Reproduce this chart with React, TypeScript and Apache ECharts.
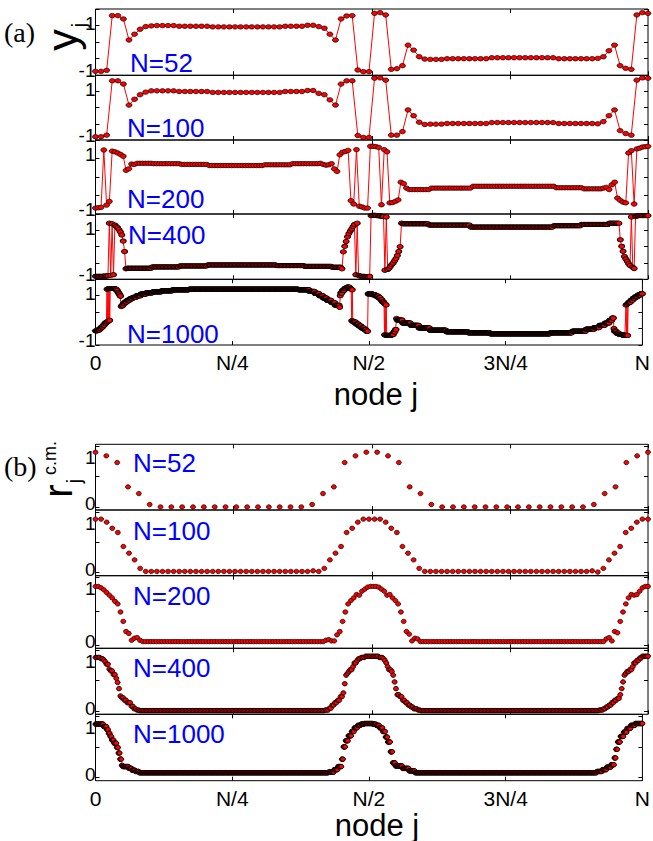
import React, { useEffect, useRef } from 'react';
import * as echarts from 'echarts';

type RLE = [number, number][];

// ---------- labels ----------
const xTickLabels = ['0', 'N/4', 'N/2', '3N/4', 'N'];
const sizeLabels = ['N=52', 'N=100', 'N=200', 'N=400', 'N=1000'];
const xAxisTitle = 'node j';

// ---------- panel (a): y_j, run-length lists of [value, count] ----------
const yA52: RLE = [
  [-0.88, 2], [-0.85, 1], [0.8, 2], [0.7, 1], [0.065, 1], [0.24, 1], [0.39, 1], [0.47, 1], [0.49, 1],
  [0.5, 4], [0.48, 6], [0.46, 13], [0.48, 4], [0.51, 2],
  [0.47, 1], [0.42, 1], [0.24, 1], [0.065, 1], [0.7, 1], [0.79, 1], [0.8, 1],
  [-0.84, 1], [-0.89, 2], [0.87, 1], [0.89, 1], [0.82, 1], [-0.82, 1], [-0.8, 1], [-0.71, 1],
  [-0.09, 1], [-0.24, 1], [-0.44, 1], [-0.51, 1], [-0.52, 3], [-0.5, 8], [-0.47, 12], [-0.5, 7],
  [-0.49, 1], [-0.44, 1], [-0.26, 1], [-0.09, 1], [-0.71, 1], [-0.79, 1], [-0.82, 1],
  [0.82, 1], [0.89, 1], [0.87, 1],
];
const yA100: RLE = [
  [-0.9, 2], [-0.85, 1], [0.83, 2], [0.73, 1], [0.08, 1], [0.26, 1], [0.4, 1], [0.48, 1],
  [0.52, 5], [0.5, 6], [0.47, 13], [0.5, 4], [0.53, 2],
  [0.44, 1], [0.4, 1], [0.24, 1], [0.08, 1], [0.73, 1], [0.83, 2],
  [-0.86, 1], [-0.92, 2], [0.91, 1], [0.92, 1], [0.85, 1], [-0.85, 2], [-0.74, 1],
  [-0.07, 1], [-0.25, 1], [-0.45, 1], [-0.52, 1], [-0.51, 3], [-0.49, 8], [-0.46, 12], [-0.49, 7],
  [-0.5, 1], [-0.43, 1], [-0.25, 1], [-0.07, 1], [-0.71, 1], [-0.8, 1], [-0.85, 1],
  [0.85, 1], [0.92, 1], [0.91, 1],
];
const yA200: RLE = [
  [-0.84, 1], [-0.83, 1], [-0.82, 1], [0.73, 1], [-0.76, 1], [-0.66, 1], [0.7, 1], [0.68, 1],
  [0.65, 1], [0.61, 1], [0.56, 1], [0.18, 1], [0.22, 1], [0.35, 1], [0.34, 1],
  [0.37, 6], [0.36, 10], [0.34, 10], [0.31, 20], [0.33, 10], [0.36, 10],
  [0.37, 1], [0.34, 1], [0.32, 1], [0.33, 1], [0.36, 1], [0.22, 1], [0.15, 1], [0.6, 1],
  [0.67, 1], [0.69, 1], [0.72, 1], [-0.64, 1], [-0.73, 1], [0.74, 1], [-0.79, 1], [-0.81, 1],
  [-0.84, 2], [0.83, 2], [0.82, 1], [0.8, 1], [-0.75, 1], [0.74, 1], [0.68, 1],
  [-0.7, 1], [-0.69, 1], [-0.66, 1], [-0.62, 1], [-0.14, 1], [-0.18, 1], [-0.3, 1],
  [-0.34, 8], [-0.3, 15], [-0.25, 30], [-0.29, 10], [-0.32, 7],
  [-0.3, 1], [-0.28, 1], [-0.34, 1], [-0.21, 1], [-0.14, 1], [-0.57, 1], [-0.63, 1], [-0.68, 1],
  [-0.7, 1], [0.65, 1], [0.71, 1], [-0.73, 1], [0.76, 1], [0.78, 1], [0.81, 1], [0.82, 1], [0.83, 1],
];
const yA400: RLE = [
  [-0.91, 6], [-0.9, 3], [-0.89, 1],
  [0.72, 1], [-0.88, 1], [0.7, 1], [-0.86, 1], [0.66, 1], [0.62, 1], [0.58, 1], [0.52, 1],
  [0.45, 1], [0.36, 1], [0.17, 1], [-0.15, 1], [-0.68, 1],
  [-0.66, 18], [-0.62, 20], [-0.59, 20], [-0.56, 50], [-0.58, 20], [-0.6, 20], [-0.63, 7], [-0.68, 1],
  [-0.16, 1], [0.01, 1], [0.16, 1], [0.3, 1], [0.4, 1], [0.48, 1], [0.54, 1], [0.62, 1], [0.68, 1],
  [-0.86, 1], [0.72, 1], [-0.88, 1],
  [-0.9, 1], [-0.91, 3], [-0.92, 3], [-0.91, 1],
  [0.95, 1], [0.96, 3], [0.95, 2], [0.94, 2], [0.93, 1], [0.92, 1],
  [-0.72, 1], [0.91, 1], [-0.7, 1], [-0.66, 1], [-0.6, 1], [-0.55, 1], [-0.5, 1], [-0.43, 1],
  [-0.36, 1], [-0.27, 1], [-0.15, 1], [0.0, 1],
  [0.72, 1], [0.7, 19], [0.66, 30], [0.6, 60], [0.64, 20], [0.68, 20], [0.72, 8],
  [0.21, 1], [0.01, 1], [-0.14, 1], [-0.3, 1], [-0.38, 1], [-0.45, 1], [-0.52, 1], [-0.58, 1],
  [0.91, 1], [-0.63, 1], [-0.67, 1], [0.92, 1], [0.94, 1], [0.95, 8],
];
const yA1000: RLE = [
  [-0.57, 4], [-0.54, 4], [-0.5, 3], [-0.45, 3], [-0.4, 3], [-0.34, 3], [-0.3, 1],
  [0.7, 1], [-0.29, 1], [0.71, 1], [-0.27, 1], [0.72, 1], [-0.25, 1], [0.72, 1],
  [0.72, 8], [0.7, 3], [0.66, 2], [0.6, 2], [0.55, 2], [0.49, 2],
  [0.17, 1], [0.2, 3], [0.26, 3], [0.31, 4], [0.36, 5], [0.41, 5], [0.45, 7], [0.5, 8], [0.55, 10],
  [0.59, 12], [0.62, 16], [0.65, 20], [0.68, 30], [0.7, 200], [0.68, 20], [0.63, 10], [0.57, 8],
  [0.5, 7], [0.43, 7], [0.36, 8], [0.29, 7], [0.21, 8], [0.15, 1],
  [0.5, 1], [0.58, 3], [0.66, 4], [0.72, 4], [0.76, 6], [0.72, 2], [0.7, 1],
  [-0.26, 1], [0.68, 1], [-0.27, 1],
  [-0.3, 5], [-0.36, 5], [-0.42, 5], [-0.48, 5], [-0.53, 4], [-0.58, 3],
  [0.55, 1], [0.56, 7], [0.53, 6], [0.49, 5], [0.44, 4], [0.38, 3], [0.32, 3],
  [0.28, 1], [-0.69, 1], [0.25, 1], [-0.7, 1], [0.22, 1], [-0.7, 1],
  [-0.71, 8], [-0.68, 4], [-0.6, 3], [-0.53, 2],
  [-0.19, 1], [-0.24, 10], [-0.33, 15], [-0.4, 15], [-0.48, 20], [-0.55, 30], [-0.6, 40], [-0.63, 40],
  [-0.66, 110], [-0.63, 40], [-0.58, 25], [-0.52, 15], [-0.47, 10], [-0.4, 10], [-0.33, 8],
  [-0.25, 5], [-0.18, 3],
  [-0.5, 1], [-0.58, 4], [-0.64, 5], [-0.68, 6], [-0.7, 5],
  [-0.71, 1], [0.22, 1], [-0.71, 1], [0.24, 1], [-0.71, 1], [0.27, 1],
  [0.3, 4], [0.36, 4], [0.42, 4], [0.47, 5], [0.52, 5], [0.56, 4],
];

// ---------- panel (b): r_j^{c.m.}, run-length lists of [value, count] ----------
const rB52: RLE = [
  [0.9, 1], [0.84, 1], [0.73, 1], [0.33, 1], [0.22, 1], [0.04, 1], [0, 14],
  [0.04, 1], [0.22, 1], [0.33, 1], [0.73, 1], [0.84, 1], [0.9, 2], [0.84, 1], [0.73, 1],
  [0.33, 1], [0.22, 1], [0.04, 1], [0, 14],
  [0.04, 1], [0.22, 1], [0.33, 1], [0.73, 1], [0.84, 1], [0.9, 1],
];
const rB100: RLE = [
  [0.88, 2], [0.83, 1], [0.73, 1], [0.66, 1], [0.43, 1], [0.32, 1], [0.21, 1], [0.07, 1],
  [0.02, 30], [0.03, 1], [0.02, 1],
  [0.07, 1], [0.21, 1], [0.32, 1], [0.43, 1], [0.66, 1], [0.73, 1], [0.83, 1], [0.88, 4],
  [0.83, 1], [0.73, 1], [0.66, 1], [0.43, 1], [0.32, 1], [0.21, 1], [0.07, 1],
  [0.02, 30], [0.03, 1], [0.01, 1],
  [0.07, 1], [0.21, 1], [0.32, 1], [0.43, 1], [0.66, 1], [0.73, 1], [0.83, 1], [0.88, 2],
];
const rB200: RLE = [
  [0.87, 2], [0.85, 1], [0.82, 1], [0.78, 1], [0.74, 1], [0.7, 1], [0.65, 1], [0.61, 1], [0.49, 1],
  [0.35, 1], [0.2, 1], [0.17, 1], [0.07, 1], [0.1, 1], [0.11, 1], [0.07, 1],
  [0.05, 66],
  [0.07, 1], [0.08, 1], [0.06, 2], [0.15, 1], [0.2, 1], [0.35, 1], [0.49, 1], [0.61, 1], [0.66, 1],
  [0.7, 1], [0.75, 1], [0.74, 1], [0.8, 1], [0.83, 1], [0.86, 1], [0.87, 3],
  [0.86, 1], [0.83, 1], [0.8, 1], [0.74, 1], [0.75, 1], [0.7, 1], [0.66, 1], [0.61, 1], [0.49, 1],
  [0.35, 1], [0.2, 1], [0.16, 1], [0.06, 1], [0.1, 1], [0.09, 1],
  [0.05, 67],
  [0.09, 1], [0.11, 1], [0.06, 1], [0.2, 1], [0.18, 1], [0.35, 1], [0.49, 1], [0.61, 1], [0.7, 1],
  [0.75, 1], [0.74, 1], [0.75, 1], [0.8, 1], [0.85, 1], [0.87, 2],
];
const rB400: RLE = [
  [0.88, 4], [0.86, 2], [0.84, 1], [0.81, 1], [0.77, 2], [0.69, 1], [0.66, 2], [0.6, 2], [0.54, 1],
  [0.47, 1], [0.37, 1], [0.25, 1], [0.22, 2], [0.18, 2], [0.14, 3], [0.08, 2], [0.04, 2], [0.02, 2],
  [0.01, 134],
  [0.02, 3], [0.05, 2], [0.1, 2], [0.14, 2], [0.18, 2], [0.24, 2], [0.3, 1], [0.45, 1], [0.59, 1],
  [0.62, 1], [0.65, 1], [0.68, 2], [0.73, 1], [0.79, 2], [0.83, 1], [0.86, 2],
  [0.88, 3], [0.9, 10], [0.88, 3],
  [0.86, 1], [0.83, 1], [0.79, 1], [0.73, 1], [0.68, 2], [0.65, 1], [0.59, 1], [0.48, 1], [0.37, 1],
  [0.27, 2], [0.24, 2], [0.18, 2], [0.14, 2], [0.1, 2], [0.07, 2], [0.04, 3], [0.02, 2],
  [0.01, 129],
  [0.02, 3], [0.04, 2], [0.07, 2], [0.1, 2], [0.14, 2], [0.18, 2], [0.21, 2], [0.27, 1], [0.37, 1],
  [0.48, 1], [0.59, 1], [0.62, 1], [0.65, 2], [0.68, 2], [0.73, 1], [0.79, 2], [0.83, 2], [0.87, 2],
  [0.9, 5],
];
const rB1000: RLE = [
  [0.87, 15], [0.83, 6], [0.78, 3], [0.72, 3], [0.67, 3], [0.61, 4], [0.56, 5], [0.49, 3], [0.4, 3],
  [0.3, 3], [0.2, 2], [0.18, 11], [0.15, 6], [0.12, 6], [0.1, 7],
  [0.08, 346],
  [0.09, 10], [0.13, 7], [0.18, 7], [0.3, 3], [0.5, 4], [0.6, 5], [0.68, 6], [0.75, 5], [0.81, 6],
  [0.85, 6], [0.87, 6], [0.88, 16], [0.87, 6], [0.85, 6], [0.81, 6], [0.75, 5], [0.66, 4], [0.58, 5],
  [0.42, 4], [0.24, 5],
  [0.19, 13], [0.15, 12], [0.11, 11],
  [0.08, 332],
  [0.1, 10], [0.13, 8], [0.17, 8], [0.21, 6], [0.32, 3], [0.46, 3], [0.58, 5], [0.67, 6], [0.74, 6],
  [0.8, 7], [0.85, 8], [0.88, 14],
];

const panelA = [yA52, yA100, yA200, yA400, yA1000];
const panelB = [rB52, rB100, rB200, rB400, rB1000];

const expand = (r: RLE): number[] => {
  const out: number[] = [];
  r.forEach(([v, c]) => {
    for (let k = 0; k < c; k++) out.push(v);
  });
  return out;
};

// ---------- layout ----------
const W = 653;
const H = 841;
const GRID_LEFT = 95.5;
const GRID_WIDTH = 552.5;
const boxesA: [number, number][] = [[9, 75.3], [75.3, 140], [140, 214], [214, 279.3], [279.3, 345]];
const boxesB: [number, number][] = [[444.3, 510], [510, 575.7], [575.7, 648.3], [648.3, 714.3], [714.3, 780.7]];
const labelPosA: [number, number][] = [[130, 62.5], [127, 127.5], [127, 199], [128, 235], [127, 334]];
const labelPosB: [number, number][] = [[133, 462.5], [133, 531], [133, 596], [133, 667.5], [133, 734]];
// pixel offsets of the y tick labels from the box edges (as in the reference)
const TOP_LABEL_DROP_A = 14;
const BOTTOM_LABEL_RISE_A = 5;
const TOP_LABEL_DROP_B = 13;
const BOTTOM_LABEL_RISE_B = 3;
const Y_LABEL_SIZE = 19;

const SANS = '"Liberation Sans", Arial, Helvetica, sans-serif';
const SERIF = '"Liberation Serif", "Times New Roman", serif';

function buildOption() {
  const grids: any[] = [];
  const xAxes: any[] = [];
  const yAxes: any[] = [];
  const series: any[] = [];

  const addPanel = (boxes: [number, number][], data: RLE[], kind: 'a' | 'b') => {
    boxes.forEach(([top, bottom], k) => {
      const gi = grids.length;
      const last = k === boxes.length - 1;
      const h = bottom - top;
      grids.push({
        left: GRID_LEFT, width: GRID_WIDTH, top, height: h,
        show: true, borderColor: '#000', borderWidth: 1, backgroundColor: 'transparent',
      });
      const tick = { show: true, inside: true, length: 4, lineStyle: { color: '#000', width: 1 } };
      const xBase = {
        type: 'value', gridIndex: gi, min: 0, max: 1, interval: 0.25,
        axisLine: { show: false, onZero: false }, axisTick: tick, splitLine: { show: false },
      };
      xAxes.push({
        ...xBase, position: 'bottom',
        axisLabel: {
          show: last, margin: 7, color: '#000', fontSize: 21, fontFamily: SANS,
          formatter: (v: number) => xTickLabels[Math.round(v * 4)],
        },
      });
      xAxes.push({ ...xBase, position: 'top', axisLabel: { show: false } });

      const yMin = kind === 'a' ? -1 : -0.05;
      const yMax = kind === 'a' ? 1 : 1.03;
      const perPx = (yMax - yMin) / h;
      const tickVals = kind === 'a' ? [-1, -0.5, 0, 0.5, 1] : [0, 0.5, 1];
      const labelVals =
        kind === 'a'
          ? [-1 + BOTTOM_LABEL_RISE_A * perPx, 1 - TOP_LABEL_DROP_A * perPx]
          : [0 + BOTTOM_LABEL_RISE_B * perPx, yMax - TOP_LABEL_DROP_B * perPx];
      const yBase = {
        type: 'value', gridIndex: gi, min: yMin, max: yMax,
        axisLine: { show: false, onZero: false }, splitLine: { show: false },
        axisTick: { ...tick, customValues: tickVals },
      };
      yAxes.push({
        ...yBase, position: 'left',
        axisLabel: {
          show: true, margin: 0, customValues: labelVals,
          fontSize: Y_LABEL_SIZE, fontFamily: SANS, color: '#000',
          formatter: (v: number) => (v > 0.4 ? '1' : kind === 'a' ? '-1' : '0'),
        },
      });
      yAxes.push({ ...yBase, position: 'right', axisLabel: { show: false } });

      const vals = expand(data[k]);
      const n = vals.length;
      const pts = vals.map((v, i) => [i / (n - 1), v]);
      const bw = n >= 400 ? 0.9 : 0.7;
      if (kind === 'a') {
        series.push({
          type: 'line', xAxisIndex: 2 * gi, yAxisIndex: 2 * gi, data: pts,
          symbol: 'circle', symbolSize: [6, 4.4], showAllSymbol: true,
          lineStyle: { color: '#ff0000', width: 1 },
          itemStyle: { color: '#ff0000', borderColor: '#000', borderWidth: bw },
          emphasis: { disabled: true }, silent: true, z: 3,
        });
      } else {
        series.push({
          type: 'scatter', xAxisIndex: 2 * gi, yAxisIndex: 2 * gi, data: pts,
          symbol: 'circle', symbolSize: [5, 4.4],
          itemStyle: { color: '#ff0000', borderColor: '#000', borderWidth: bw, opacity: 1 },
          emphasis: { disabled: true }, silent: true, z: 3,
        });
      }
    });
  };

  addPanel(boxesA, panelA, 'a');
  addPanel(boxesB, panelB, 'b');

  const graphics: any[] = [];
  const sizeText = (pos: [number, number][]) =>
    pos.forEach(([x, y], k) =>
      graphics.push({
        type: 'text', x, y, z: 10,
        style: { text: sizeLabels[k], fill: '#0000ff', font: `26px ${SANS}`, align: 'left', verticalAlign: 'middle' },
      }),
    );
  sizeText(labelPosA);
  sizeText(labelPosB);

  graphics.push(
    { type: 'text', x: 4, y: 32, style: { text: '(a)', fill: '#000', font: `28px ${SERIF}`, align: 'left', verticalAlign: 'middle' } },
    { type: 'text', x: 4, y: 466, style: { text: '(b)', fill: '#000', font: `28px ${SERIF}`, align: 'left', verticalAlign: 'middle' } },
    { type: 'text', x: 62, y: 40, rotation: Math.PI / 2, style: { text: 'y', fill: '#000', font: `43px ${SANS}`, align: 'center', verticalAlign: 'middle' } },
    { type: 'text', x: 79, y: 25, rotation: Math.PI / 2, style: { text: 'j', fill: '#000', font: `20px ${SANS}`, align: 'center', verticalAlign: 'middle' } },
    { type: 'text', x: 58, y: 491, rotation: Math.PI / 2, style: { text: 'r', fill: '#000', font: `40px ${SANS}`, align: 'center', verticalAlign: 'middle' } },
    { type: 'text', x: 74, y: 481, rotation: Math.PI / 2, style: { text: 'j', fill: '#000', font: `20px ${SANS}`, align: 'center', verticalAlign: 'middle' } },
    { type: 'text', x: 50, y: 458, rotation: Math.PI / 2, style: { text: 'c.m.', fill: '#000', font: `18px ${SANS}`, align: 'center', verticalAlign: 'middle' } },
    { type: 'text', x: 376, y: 394, style: { text: xAxisTitle, fill: '#000', font: `31px ${SANS}`, align: 'center', verticalAlign: 'middle' } },
    { type: 'text', x: 377, y: 825, style: { text: xAxisTitle, fill: '#000', font: `31px ${SANS}`, align: 'center', verticalAlign: 'middle' } },
  );

  return {
    animation: false,
    backgroundColor: '#fff',
    grid: grids,
    xAxis: xAxes,
    yAxis: yAxes,
    series,
    graphic: graphics,
  };
}

export default function App() {
  const ref = useRef<HTMLDivElement>(null);
  useEffect(() => {
    if (!ref.current) return;
    const chart = echarts.init(ref.current, undefined, { renderer: 'svg', width: W, height: H });
    chart.setOption(buildOption() as any);
    return () => chart.dispose();
  }, []);
  return (
    <div
      ref={ref}
      style={{ position: 'absolute', left: 0, top: 0, width: W, height: H, background: '#fff' }}
    />
  );
}
